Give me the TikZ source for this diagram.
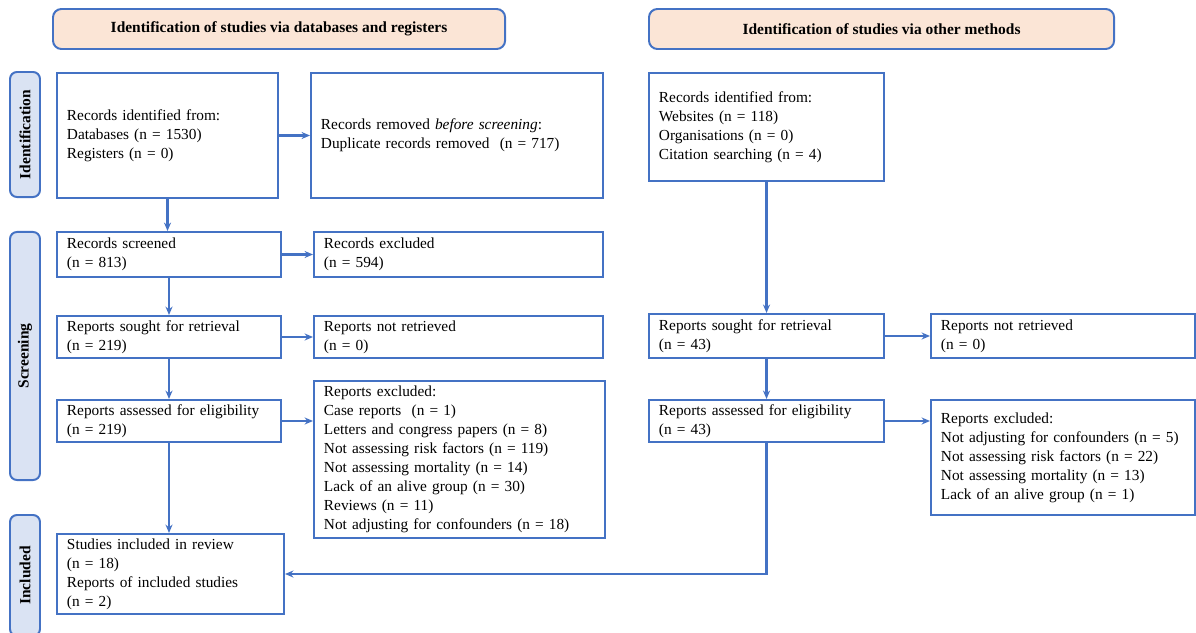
\documentclass[tikz,border=0pt]{standalone}
\usepackage{fontspec}
\setmainfont{Liberation Serif}
\usetikzlibrary{arrows.meta}
\definecolor{pblue}{HTML}{4472C4}
\definecolor{peach}{HTML}{FBE5D6}
\definecolor{paleblue}{HTML}{DAE3F3}
\begin{document}
\begin{tikzpicture}[x=0.025cm, y=-0.025cm, line width=1.4pt,
  flow box/.style={draw=pblue, rectangle, anchor=north west, align=left, inner xsep=0.25cm, inner ysep=0pt, font=\fontsize{10.9}{13.5}\selectfont},
  head box/.style={draw=pblue, fill=peach, rounded corners=6pt, anchor=north west, minimum height=1cm, font=\fontsize{11}{13}\selectfont\bfseries},
  phase box/.style={draw=pblue, fill=paleblue, rounded corners=5pt, rotate=90, minimum height=0.75cm, font=\fontsize{11}{13}\selectfont\bfseries},
  flow arrow/.style={draw=pblue, line width=1.5pt, -{Stealth[length=6pt,width=5pt]}}]
\useasboundingbox (0,0) rectangle (1196,632);
% headers and phases
\begin{scope}
\node[head box, minimum width=11.3cm] (hdb) at (52,8) {Identification of studies via databases and registers};
\node[head box, minimum width=11.625cm] (hother) at (648,8) {Identification of studies via other methods};
\node[phase box, minimum width=3.125cm] (pident) at (25,134.5) {Identification};
\node[phase box, minimum width=6.2cm] (pscreen) at (25,356) {Screening};
\node[phase box, minimum width=3.025cm] (pincl) at (25,575.5) {Included};
\end{scope}
% databases and registers
\begin{scope}
\node[flow box, text width=5.025cm, minimum height=3.125cm] (ident) at (56,72) {Records identified from:\\Databases (n = 1530)\\Registers (n = 0)};
\node[flow box, text width=6.8cm, minimum height=3.125cm] (removed) at (310,72) {Records removed \textit{before screening}:\\Duplicate records removed~ (n = 717)};
\node[flow box, text width=5.1cm, minimum height=1.125cm] (screened) at (56,231) {Records screened\\(n = 813)};
\node[flow box, text width=6.725cm, minimum height=1.125cm] (excluded) at (313,231) {Records excluded\\(n = 594)};
\node[flow box, text width=5.1cm, minimum height=1.05cm] (sought) at (56,315) {Reports sought for retrieval\\(n = 219)};
\node[flow box, text width=6.725cm, minimum height=1.05cm] (notret) at (313,315) {Reports not retrieved\\(n = 0)};
\node[flow box, text width=5.1cm, minimum height=1.05cm] (assessed) at (56,399) {Reports assessed for eligibility\\(n = 219)};
\node[flow box, text width=6.775cm, minimum height=3.925cm] (repexcl) at (313,380) {Reports excluded:\\Case reports~ (n = 1)\\Letters and congress papers (n = 8)\\Not assessing risk factors (n = 119)\\Not assessing mortality (n = 14)\\Lack of an alive group (n = 30)\\Reviews (n = 11)\\Not adjusting for confounders (n = 18)};
\node[flow box, text width=5.175cm, minimum height=2cm] (included) at (56,533) {Studies included in review\\(n = 18)\\Reports of included studies\\(n = 2)};
\end{scope}
% other methods
\begin{scope}
\node[flow box, text width=5.375cm, minimum height=2.7cm] (other) at (648,72) {Records identified from:\\Websites (n = 118)\\Organisations (n = 0)\\Citation searching (n = 4)};
\node[flow box, text width=5.375cm, minimum height=1.1cm] (osought) at (648,313) {Reports sought for retrieval\\(n = 43)};
\node[flow box, text width=6.1cm, minimum height=1.1cm] (onotret) at (930,313) {Reports not retrieved\\(n = 0)};
\node[flow box, text width=5.375cm, minimum height=1.05cm] (oassessed) at (648,399) {Reports assessed for eligibility\\(n = 43)};
\node[flow box, text width=6.1cm, minimum height=2.875cm] (oexcl) at (930,399) {Reports excluded:\\Not adjusting for confounders (n = 5)\\Not assessing risk factors (n = 22)\\Not assessing mortality (n = 13)\\Lack of an alive group (n = 1)};
\end{scope}
% connectors
\begin{scope}
\draw[flow arrow] (ident.south) -- (ident.south |- screened.north);
\draw[flow arrow] (ident) -- (removed);
\draw[flow arrow] (screened) -- (excluded);
\draw[flow arrow] (screened) -- (sought);
\draw[flow arrow] (sought) -- (notret);
\draw[flow arrow] (sought) -- (assessed);
\draw[flow arrow] (assessed.east) -- (assessed.east -| repexcl.west);
\draw[flow arrow] (assessed.south) -- (assessed.south |- included.north);
\draw[flow arrow] (other) -- (osought);
\draw[flow arrow] (osought) -- (onotret);
\draw[flow arrow] (osought) -- (oassessed);
\draw[flow arrow] (oassessed.east) -- (oassessed.east -| oexcl.west);
\draw[flow arrow] (oassessed.south) |- (included.east);
\end{scope}
\end{tikzpicture}
\end{document}
